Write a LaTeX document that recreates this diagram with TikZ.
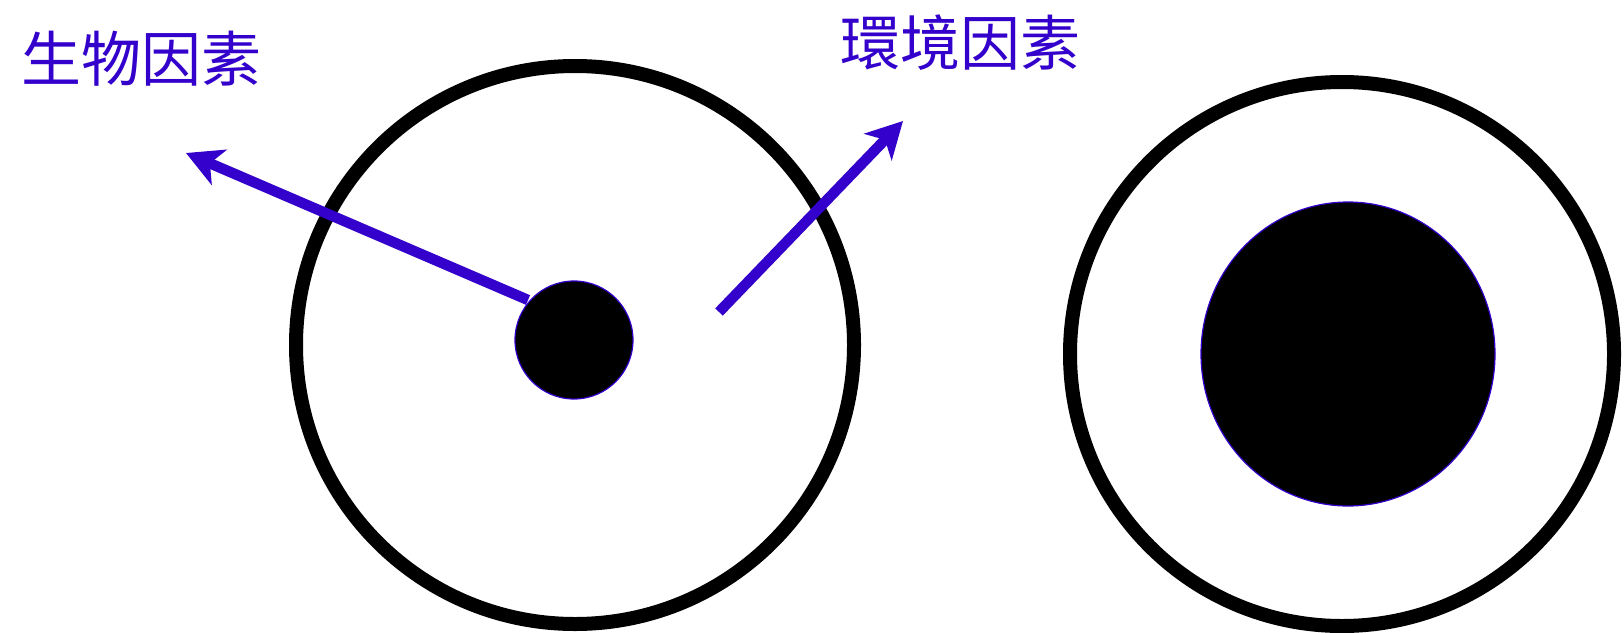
\documentclass[tikz,border=0pt]{standalone}
\usepackage{fontspec}
\newfontfamily\cjk{Noto Sans CJK TC}
\usetikzlibrary{arrows.meta,shapes.geometric}
\definecolor{vblue}{RGB}{51,0,204}
\tikzset{
  ring/.style={circle, draw=black, line width=14pt, inner sep=0pt},
  core/.style={fill=black, draw=vblue, line width=1.2pt},
  factor/.style={draw=vblue, line width=10.5pt, -{Stealth[length=36pt,width=38pt,inset=10pt]}},
  label/.style={text=vblue, inner sep=0pt, font=\cjk\fontsize{60pt}{60pt}\selectfont}
}
\begin{document}
\begin{tikzpicture}[x=1pt,y=-1pt]
\fill[white] (0,0) rectangle (1624,632);
\useasboundingbox (0,0) rectangle (1624,632);
% left cell
\node[ring, minimum size=558pt] (outerL) at (575,345) {};
\node[circle, core, inner sep=0pt, minimum size=118pt] (small) at (574,340) {};
% right cell
\node[ring, minimum size=544pt] (outerR) at (1342,354) {};
\node[ellipse, core, inner sep=0pt, minimum width=294pt, minimum height=304pt] (big) at (1348,354) {};
% labels
\node[label] (bio) at (141,59) {生物因素};
\node[label] (env) at (960,43) {環境因素};
% arrows
\coordinate (tailL) at (528,300);
\coordinate (tipL) at (186,153);
\coordinate (tailR) at (719,312);
\coordinate (tipR) at (903,121);
\draw[factor] (tailL) -- (tipL);
\draw[factor] (tailR) -- (tipR);
\end{tikzpicture}
\end{document}
